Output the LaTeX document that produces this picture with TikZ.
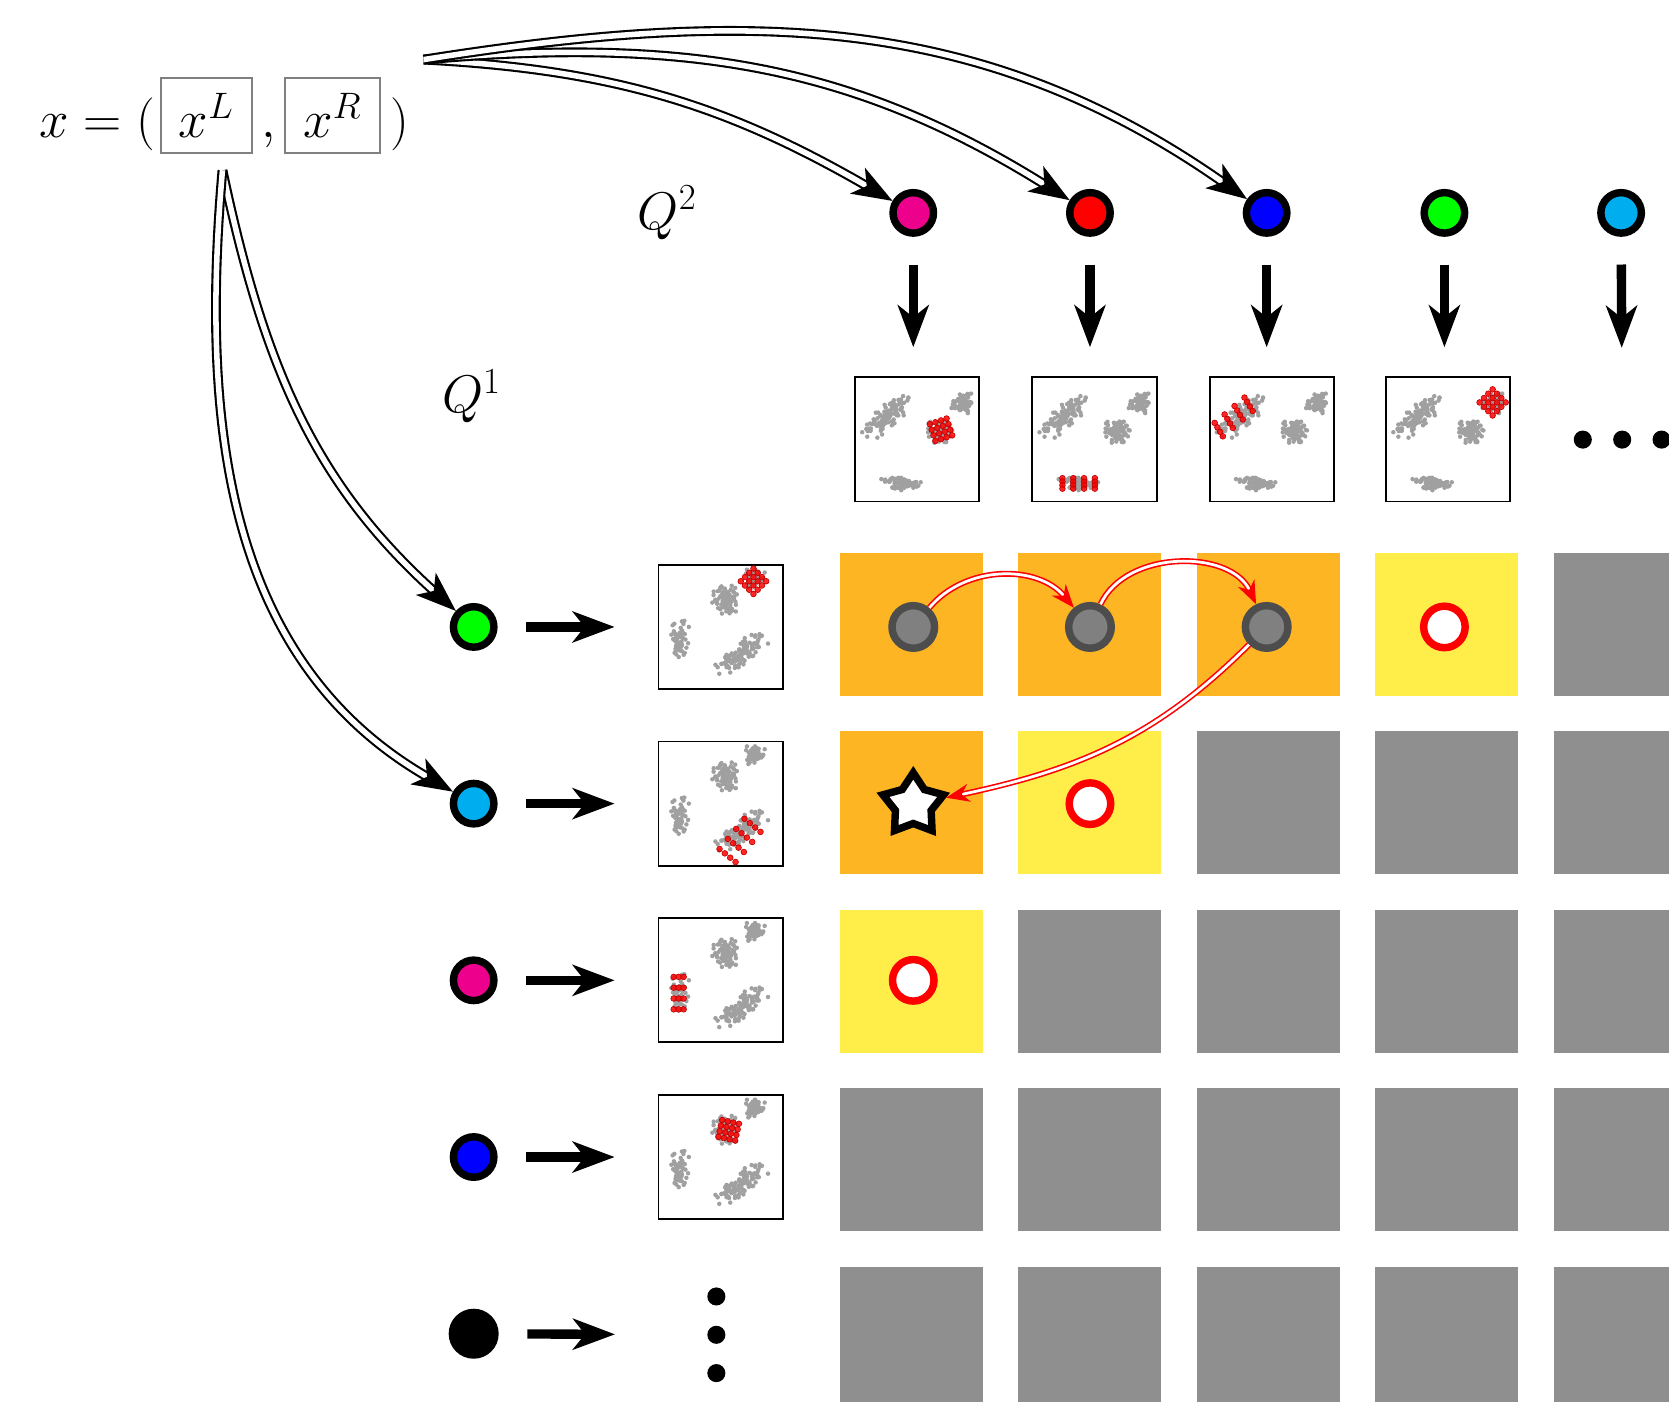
\documentclass[tikz,border=0pt]{standalone}
\usepackage{amsmath}
\usepackage{xcolor}
\usetikzlibrary{shapes.geometric, arrows.meta, positioning}

\definecolor{qmagenta}{RGB}{236,0,140}
\definecolor{qred}{RGB}{255,0,0}
\definecolor{qblue}{RGB}{0,0,255}
\definecolor{qgreen}{RGB}{0,255,0}
\definecolor{qcyan}{RGB}{0,174,239}
\definecolor{cellorange}{RGB}{253,181,36}
\definecolor{cellyellow}{RGB}{255,237,74}
\definecolor{cellgray}{RGB}{143,143,143}
\definecolor{ptgray}{RGB}{160,160,160}
\definecolor{nodegray}{RGB}{128,128,128}
\definecolor{rimgray}{RGB}{77,77,77}

\tikzset{
  qdot/.style={circle, draw=black, line width=3.5pt, minimum size=19pt, inner sep=0pt},
  visit/.style={circle, draw=rimgray, fill=nodegray, line width=3.5pt, minimum size=20pt, inner sep=0pt},
  ring/.style={circle, draw=red, fill=white, line width=3.5pt, minimum size=19.5pt, inner sep=0pt},
  goalstar/.style={star, star points=5, star point ratio=1.7, draw=black, fill=white,
    line width=3.5pt, minimum size=30pt, inner sep=0pt},
  plotbox/.style={rectangle, draw=black, fill=white, line width=0.9pt, minimum size=58.35pt, inner sep=0pt},
  cell/.style={rectangle, minimum size=67.2pt, inner sep=0pt},
  xbox/.style={rectangle, draw=black!50, line width=0.8pt, inner sep=0pt, text height=28pt,
    text depth=7.5pt, font=\fontsize{25}{30}\selectfont},
  hitdot/.style={fill=red, fill opacity=0.85, draw=red!75!black, line width=0.3pt},
  bigdot/.style={circle, fill=black, minimum size=8.5pt, inner sep=0pt}
}

% gray cloud: cx cy sx sy angle n
\newcommand{\gblob}[6]{%
  \foreach \k in {1,...,#6}{%
    \pgfmathsetmacro{\ua}{#3*(rand+rand)/2}%
    \pgfmathsetmacro{\ub}{#4*(rand+rand)/2}%
    \fill[ptgray] ({#1+\ua*cos(#5)-\ub*sin(#5)},{#2+\ua*sin(#5)+\ub*cos(#5)}) circle[radius=1.05pt];
  }}
% red points: origin, step u, step v, last i, last j
\newcommand{\rgrid}[8]{%
  \foreach \i in {0,...,#7}{\foreach \j in {0,...,#8}{%
    \filldraw[hitdot] ({#1+\i*(#3)+\j*(#5)},{#2+\i*(#4)+\j*(#6)}) circle[radius=1.35pt];}}}
\newcommand{\topcloud}{%
  \pgfmathsetseed{7}%
  \gblob{0.25}{0.33}{0.27}{0.1}{-40}{100}%
  \gblob{0.87}{0.21}{0.1}{0.09}{0}{60}%
  \gblob{0.69}{0.45}{0.12}{0.11}{0}{75}%
  \gblob{0.37}{0.86}{0.19}{0.06}{0}{70}}
\newcommand{\leftcloud}{%
  \pgfmathsetseed{3}%
  \gblob{0.55}{0.28}{0.12}{0.13}{0}{75}%
  \gblob{0.78}{0.12}{0.1}{0.09}{0}{50}%
  \gblob{0.18}{0.6}{0.08}{0.18}{0}{60}%
  \gblob{0.66}{0.73}{0.28}{0.09}{-40}{100}}
\newcommand{\plotin}[2]{%
  \begin{scope}[shift={(#1.north west)},x=58.35pt,y=-58.35pt]#2\end{scope}}

\begin{document}
\begin{tikzpicture}[x=0.5pt,y=0.5pt,
    wire/.style={draw=black, double=white, line width=1pt, double distance=2.6pt,
      -{Stealth[length=19pt,width=14pt,inset=5pt]}},
    redwire/.style={draw=red, double=white, line width=0.75pt, double distance=1.3pt,
      -{Stealth[length=11pt,width=8.5pt,inset=3.5pt]}},
    fat/.style={line width=4.4pt, -{Stealth[length=20pt,width=15pt,inset=6pt,line width=0pt]}}]

  \path[use as bounding box, clip] (0,0) rectangle (1568,-1317);

  % the cells
  \foreach \rowlist [count=\r] in {{cellorange,cellorange,cellorange,cellyellow,cellgray},
      {cellorange,cellyellow,cellgray,cellgray,cellgray},
      {cellyellow,cellgray,cellgray,cellgray,cellgray},
      {cellgray,cellgray,cellgray,cellgray,cellgray},
      {cellgray,cellgray,cellgray,cellgray,cellgray}}
    \foreach \fc [count=\c] in \rowlist
      \node[cell, fill=\fc] (cell\r\c) at ({856.2+167.7*(\c-1)},{-586.5-167.7*(\r-1)}) {};

  % input pair
  \node[xbox, minimum width=43pt] (xl) at (194,-108.5) {$x^L$};
  \node[xbox, minimum width=44.5pt] (xr) at (312.5,-108.5) {$x^R$};
  \node[anchor=base east, inner sep=0pt, font=\fontsize{25}{30}\selectfont] (xeq) at (146,-129) {$x=($};
  \node[anchor=base, inner sep=0pt, font=\fontsize{25}{30}\selectfont] (comma) at (252,-129) {$,$};
  \node[anchor=base west, inner sep=0pt, font=\fontsize{25}{30}\selectfont] (xclose) at (366,-129) {$)$};
  \coordinate (lsrc) at (209,-160);
  \coordinate (rsrc) at (398,-56);

  \node[font=\fontsize{24}{28}\selectfont] (lq2) at (627,-200) {$Q^2$};
  \node[font=\fontsize{24}{28}\selectfont] (lq1) at (443,-372) {$Q^1$};

  % Q2 codes
  \node[qdot, fill=qmagenta] (q2m) at (858,-200) {};
  \node[qdot, fill=qred] (q2r) at (1024,-200) {};
  \node[qdot, fill=qblue] (q2b) at (1190,-200) {};
  \node[qdot, fill=qgreen] (q2g) at (1357,-200) {};
  \node[qdot, fill=qcyan] (q2c) at (1523,-200) {};

  % Q1 codes
  \node[qdot, fill=qgreen] (q1g) at (445,-589) {};
  \node[qdot, fill=qcyan] (q1c) at (445,-755) {};
  \node[qdot, fill=qmagenta] (q1m) at (445,-921) {};
  \node[qdot, fill=qblue] (q1b) at (445,-1087) {};
  \node[circle, fill=black, minimum size=23.5pt, inner sep=0pt] (q1k) at (445,-1253) {};

  % decoded images
  \node[plotbox] (top1) at (861.6,-412.8) {};
  \node[plotbox] (top2) at (1028.2,-412.8) {};
  \node[plotbox] (top3) at (1194.8,-412.8) {};
  \node[plotbox] (top4) at (1360.6,-412.8) {};
  \node[plotbox] (left1) at (677,-589) {};
  \node[plotbox] (left2) at (677,-755) {};
  \node[plotbox] (left3) at (677,-921) {};
  \node[plotbox] (left4) at (677,-1087) {};

  \plotin{top1}{\topcloud\rgrid{0.61}{0.385}{0.045}{-0.015}{0.015}{0.045}{3}{3}}
  \plotin{top2}{\topcloud\rgrid{0.25}{0.82}{0.087}{0}{0}{0.028}{3}{3}}
  \plotin{top3}{\topcloud\rgrid{0.048}{0.375}{0.022}{0.036}{0.08}{-0.068}{3}{3}}
  \plotin{top4}{\topcloud\rgrid{0.76}{0.21}{0.035}{-0.035}{0.035}{0.035}{3}{3}}
  \plotin{left1}{\leftcloud\rgrid{0.67}{0.14}{0.034}{-0.034}{0.034}{0.034}{3}{3}}
  \plotin{left2}{\leftcloud\rgrid{0.70}{0.63}{0.043}{0.035}{-0.067}{0.081}{3}{3}}
  \plotin{left3}{\leftcloud\rgrid{0.13}{0.48}{0.04}{0}{0}{0.087}{2}{3}}
  \plotin{left4}{\leftcloud\rgrid{0.52}{0.21}{0.045}{0.01}{-0.01}{0.045}{3}{3}}

  % more to come
  \node[bigdot] (hd1) at (1487,-413) {};
  \node[bigdot] (hd2) at (1524,-413) {};
  \node[bigdot] (hd3) at (1561,-413) {};
  \node[bigdot] (vd1) at (673,-1218) {};
  \node[bigdot] (vd2) at (673,-1254) {};
  \node[bigdot] (vd3) at (673,-1290) {};

  % search states
  \node[visit] (g1) at (858,-589) {};
  \node[visit] (g2) at (1024,-589) {};
  \node[visit] (g3) at (1190,-589) {};
  \node[ring] (r1) at (1357,-589) {};
  \node[ring] (r2) at (1024,-755) {};
  \node[ring] (r3) at (858,-921) {};
  \node[goalstar] (goal) at (858,-756) {};

  % encoder arrows
  \draw[wire] (rsrc) to[out=-3,in=150] (q2m);
  \draw[wire] (rsrc) to[out=5,in=148] (q2r);
  \draw[wire] (rsrc) to[out=9,in=145] (q2b);
  \draw[wire] (lsrc) to[out=-78,in=138] (q1g);
  \draw[wire] (lsrc) to[out=-95,in=150] (q1c);

  % decoder arrows
  \foreach \q/\b in {q2m/top1,q2r/top2,q2b/top3,q2g/top4}
    \draw[fat, shorten <=13pt, shorten >=13.75pt] (\q) -- (\q |- \b.north);
  \draw[fat, shorten <=13pt, shorten >=38.75pt] (q2c) -- (hd2);
  \foreach \q/\b in {q1g/left1,q1c/left2,q1m/left3,q1b/left4}
    \draw[fat, shorten <=13.5pt, shorten >=20.25pt] (\q) -- (\q -| \b.west);
  \draw[fat, shorten <=13.25pt, shorten >=43.25pt] (q1k) -- (vd2);

  % search path
  \draw[redwire] (g1) to[out=50,in=130] (g2);
  \draw[redwire] (g2) to[out=65,in=115] (g3);
  \draw[redwire] (g3) to[out=225,in=12] (goal);
\end{tikzpicture}
\end{document}
